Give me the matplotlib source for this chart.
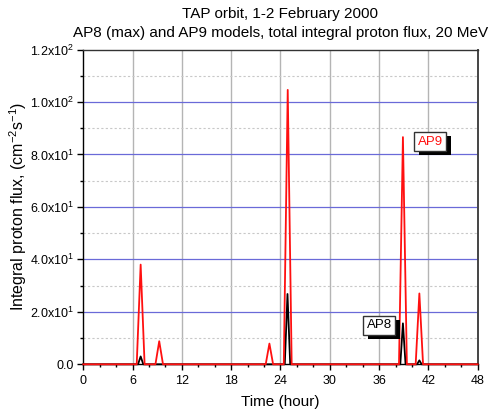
import matplotlib
matplotlib.use("Agg")
import matplotlib.pyplot as plt
from matplotlib.ticker import MultipleLocator, FixedLocator
from matplotlib import patheffects

plt.rcParams['font.family'] = ['Liberation Sans', 'DejaVu Sans']
plt.rcParams['mathtext.fontset'] = 'custom'
plt.rcParams['mathtext.rm'] = 'Liberation Sans'
plt.rcParams['mathtext.it'] = 'Liberation Sans'

# AP9 model flux along the orbit (hours, cm^-2 s^-1)
ap9_time = [0, 6.50, 6.98, 7.46, 8.78, 9.24, 9.70, 22.20, 22.65, 23.10,
            24.40, 24.88, 25.36, 38.42, 38.90, 39.38, 40.45, 40.90, 41.35, 48]
ap9_flux = [0, 0, 38.0, 0, 0, 8.8, 0, 0, 7.9, 0,
            0, 104.6, 0, 0, 86.6, 0, 0, 27.0, 0, 0]

# AP8 (max) model flux
ap8_time = [0, 6.66, 6.98, 7.30, 24.52, 24.85, 25.18, 38.58, 38.90, 39.22,
            40.62, 40.90, 41.18, 48]
ap8_flux = [0, 0, 3.0, 0, 0, 26.8, 0, 0, 15.6, 0,
            0, 1.5, 0, 0]

y_ticks = [0, 20, 40, 60, 80, 100, 120]
y_tick_labels = ['0.0', r'2.0x10$^{1}$', r'4.0x10$^{1}$', r'6.0x10$^{1}$',
                 r'8.0x10$^{1}$', r'1.0x10$^{2}$', r'1.2x10$^{2}$']
x_ticks = [0, 6, 12, 18, 24, 30, 36, 42, 48]

fig = plt.figure(figsize=(4.91, 4.16), dpi=100)
ax = fig.add_axes([83.3 / 491, 1 - 364.3 / 416, (477.7 - 83.3) / 491, (364.3 - 49.5) / 416])

ax.set_xlim(0, 48)
ax.set_ylim(0, 120)

# grids
for xv in x_ticks[1:-1]:
    ax.axvline(xv, color='#b4b4b4', lw=1.0, zorder=0)
for yv in y_ticks[1:-1]:
    ax.axhline(yv, color='#6a6ad8', lw=0.9, zorder=0)
for yv in [10, 30, 50, 70, 90, 110]:
    ax.axhline(yv, color='#c8c8c8', lw=0.8, ls=(0, (2, 2)), zorder=0)

ax.plot(ap8_time, ap8_flux, color='black', lw=1.3, zorder=3, clip_on=False)
ax.plot(ap9_time, ap9_flux, color='#ff1010', lw=1.3, zorder=4, clip_on=False)

ax.xaxis.set_major_locator(FixedLocator(x_ticks))
ax.xaxis.set_minor_locator(MultipleLocator(2))
ax.set_yticks(y_ticks)
ax.set_yticklabels(y_tick_labels)
ax.yaxis.set_minor_locator(MultipleLocator(10))
ax.tick_params(which='major', direction='out', length=4.5, width=1, labelsize=9, colors='black')
ax.tick_params(which='minor', direction='out', length=2.5, width=1)
ax.tick_params(axis='x', pad=3)
ax.tick_params(axis='y', pad=2)

for side in ['left', 'bottom']:
    ax.spines[side].set_color('black')
    ax.spines[side].set_linewidth(1.0)
ax.spines['top'].set_color('#333333')
ax.spines['top'].set_linewidth(1.0)
ax.spines['right'].set_color('#444444')
ax.spines['right'].set_linewidth(1.4)

ax.set_xlabel('Time (hour)', fontsize=11, labelpad=6)
ax.set_ylabel(r'Integral proton flux, (cm$^{-2}$s$^{-1}$)', fontsize=11.5, labelpad=1)
ax.set_title('TAP orbit, 1-2 February 2000\nAP8 (max) and AP9 models, total integral proton flux, 20 MeV',
             fontsize=11, pad=9, linespacing=1.45)

# boxed series labels with drop shadow
def shadow_label(x, y, text, color):
    t = ax.text(x, y, text, fontsize=9.5, color=color, ha='center', va='center',
                bbox=dict(boxstyle='square,pad=0.25', fc='white', ec='#333333', lw=1), zorder=6)
    t.get_bbox_patch().set_path_effects([
        patheffects.SimplePatchShadow(offset=(3.6, -3.0), shadow_rgbFace='black', alpha=1.0),
        patheffects.Normal()])

shadow_label(42.2, 84.9, 'AP9', '#ff1010')
shadow_label(36.0, 14.8, 'AP8', 'black')

fig.savefig('out.png', dpi=100)
